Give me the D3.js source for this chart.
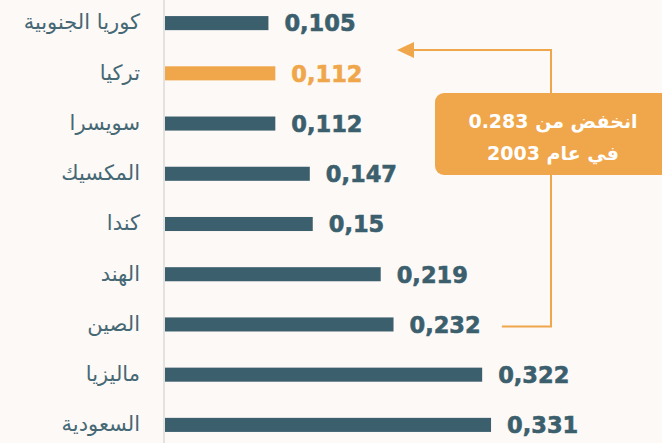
<!DOCTYPE html>
<html>
<head>
<meta charset="utf-8">
<script src="https://cdn.jsdelivr.net/npm/d3@7"></script>
<style>
  html, body { margin: 0; padding: 0; background: #fdf9f6; }
  svg { display: block; }
</style>
</head>
<body>
<svg id="chart"></svg>
<script>
// countries, top to bottom
var countries = ["كوريا الجنوبية", "تركيا", "سويسرا", "المكسيك", "كندا", "الهند", "الصين", "ماليزيا", "السعودية"];
var values = [0.105, 0.112, 0.112, 0.147, 0.15, 0.219, 0.232, 0.322, 0.331];
var highlight = "تركيا";
var noteLines = ["انخفض من 0.283", "في عام 2003"];

const W = 662, H = 443;
const dark = "#3c5f6e", orange = "#f0a64a";

var data = countries.map(function(c, i){ return {name: c, value: values[i]}; });

var svg = d3.select("#chart").attr("width", W).attr("height", H);

var x = d3.scaleLinear().domain([0, 0.35]).range([165, 165 + 0.35 * 985]);
var y = d3.scaleBand().domain(countries).range([-2, 450]).paddingInner(0.72).paddingOuter(0.36);

// vertical axis line
svg.append("line")
    .attr("x1", 164).attr("x2", 164)
    .attr("y1", 0).attr("y2", H)
    .attr("stroke", "#e4e2df").attr("stroke-width", 2);

svg.selectAll("rect.bar")
    .data(data)
    .enter()
    .append("rect")
    .attr("class", "bar")
    .attr("x", x(0))
    .attr("y", function(d){ return y(d.name); })
    .attr("width", function(d){ return x(d.value) - x(0); })
    .attr("height", y.bandwidth())
    .attr("fill", function(d){ return d.name == highlight ? orange : dark; });

// value labels
svg.selectAll("text.val")
    .data(data)
    .enter()
    .append("text")
    .attr("class", "val")
    .attr("x", function(d){ return x(d.value) + 16; })
    .attr("y", function(d){ return y(d.name) + y.bandwidth() / 2; })
    .attr("dy", "0.37em")
    .attr("font-family", "DejaVu Sans")
    .attr("font-weight", "bold")
    .attr("font-size", 22.5)
    .attr("fill", function(d){ return d.name == highlight ? orange : dark; })
    .attr("stroke", function(d){ return d.name == highlight ? orange : dark; })
    .attr("stroke-width", 0.6)
    .text(function(d){ return String(d.value).replace(".", ","); });

// country labels (all same colour, even the highlighted one)
svg.selectAll("text.lab")
    .data(data)
    .enter()
    .append("text")
    .attr("class", "lab")
    .attr("x", 140)
    .attr("y", function(d){ return y(d.name) + y.bandwidth() / 2; })
    .attr("dy", "0.3em")
    .attr("text-anchor", "end")
    .attr("font-family", "DejaVu Sans")
    .attr("font-size", 21)
    .attr("fill", "#456875")
    .text(function(d){ return d.name; });

// annotation connector: from China row up to Turkey row
var yTop = 50, yBot = y("الصين") + y.bandwidth() / 2 + 2, xv = 551;
svg.append("path")
    .attr("d", `M${x(0.342)},${yBot} H${xv} V${yTop} H${411}`)
    .attr("fill", "none")
    .attr("stroke", orange)
    .attr("stroke-width", 2);
svg.append("path")
    .attr("d", `M397,${yTop} L414,${yTop - 8} L414,${yTop + 8} Z`)
    .attr("fill", orange);

var note = svg.append("g");
note.append("rect")
    .attr("x", 435).attr("y", 93)
    .attr("width", 250).attr("height", 82)
    .attr("rx", 9)
    .attr("fill", orange);
note.selectAll("text")
    .data(noteLines)
    .enter()
    .append("text")
    .attr("x", 553)
    .attr("y", function(d, i){ return 128 + i * 32; })
    .attr("text-anchor", "middle")
    .attr("font-family", "DejaVu Sans")
    .attr("font-weight", "bold")
    .attr("font-size", 19)
    .attr("fill", "#ffffff")
    .text(function(d){ return d; });
</script>
</body>
</html>
